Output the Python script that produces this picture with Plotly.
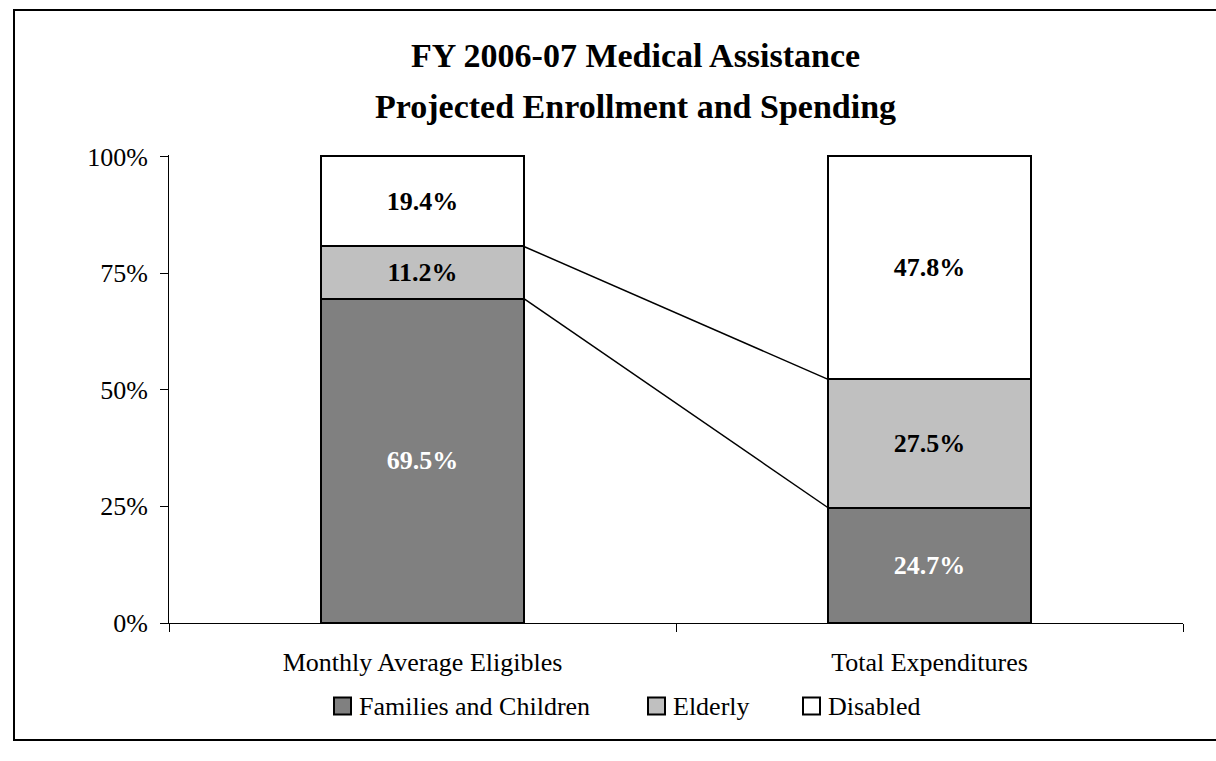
import plotly.graph_objects as go

# Stacked shares, in percent, for each measure
categories = ["Monthly Average Eligibles", "Total Expenditures"]
series_names = ["Families and Children", "Elderly", "Disabled"]
families = [69.5, 24.7]
elderly = [11.2, 27.5]
disabled = [19.4, 47.8]
series_values = [families, elderly, disabled]
fill_colors = ["#808080", "#C0C0C0", "#FFFFFF"]
label_colors = ["#FFFFFF", "#000000", "#000000"]
y_ticks = [0, 25, 50, 75, 100]
y_tick_labels = ["0%", "25%", "50%", "75%", "100%"]

FONT = "Liberation Serif"
W, H = 1216, 761
L, R, T, B = 169, 33, 155, 138
BAR_W = 0.4

plot_w = W - L - R
plot_h = H - T - B


def px_x(px):
    return (px - L) / plot_w


def px_y(py):
    return (H - B - py) / plot_h


fig = go.Figure()
for name, vals, fc, lc in zip(series_names, series_values, fill_colors, label_colors):
    fig.add_trace(go.Bar(
        x=categories, y=vals, name=name, width=BAR_W,
        marker=dict(color=fc, line=dict(color="#000000", width=2)),
        texttemplate="%{y:.1f}%", textposition="inside",
        insidetextanchor="middle", textangle=0,
        textfont=dict(family=FONT, size=26, color=lc, weight="bold"),
        showlegend=False, hoverinfo="skip",
    ))

# Series lines joining the tops of the lower segments
shapes = []
cum_left, cum_right = 0.0, 0.0
for vals in series_values[:-1]:
    cum_left += vals[0]
    cum_right += vals[1]
    shapes.append(dict(type="line", xref="x", yref="y",
                       x0=0 + BAR_W / 2, y0=cum_left,
                       x1=1 - BAR_W / 2, y1=cum_right,
                       line=dict(color="#000000", width=1.5)))

# Chart frame
shapes.append(dict(type="rect", xref="paper", yref="paper",
                   x0=px_x(14), x1=px_x(1260), y0=px_y(740), y1=px_y(10),
                   line=dict(color="#000000", width=2), layer="below"))

# Legend keys
annotations = []
legend_x = [334, 648, 803]
legend_cy = 706
sq = 17
for name, fc, lx in zip(series_names, fill_colors, legend_x):
    shapes.append(dict(type="rect", xref="paper", yref="paper",
                       x0=px_x(lx), x1=px_x(lx + sq),
                       y0=px_y(legend_cy + sq / 2), y1=px_y(legend_cy - sq / 2),
                       fillcolor=fc, line=dict(color="#000000", width=2)))
    annotations.append(dict(xref="paper", yref="paper", x=px_x(lx + sq + 6),
                            y=px_y(legend_cy), xanchor="left", yanchor="middle",
                            text=name, showarrow=False,
                            font=dict(family=FONT, size=26, color="#000000")))

# Two-line title
title_lines = ["FY 2006-07 Medical Assistance", "Projected Enrollment and Spending"]
for line, cy in zip(title_lines, [55, 107]):
    annotations.append(dict(xref="paper", yref="paper", x=px_x(635), y=px_y(cy),
                            xanchor="center", yanchor="middle", text=line,
                            showarrow=False,
                            font=dict(family=FONT, size=34, color="#000000",
                                      weight="bold")))

fig.update_layout(
    width=W, height=H,
    margin=dict(l=L, r=R, t=T, b=B, pad=0),
    paper_bgcolor="#FFFFFF", plot_bgcolor="#FFFFFF",
    barmode="stack",
    font=dict(family=FONT, size=26, color="#000000"),
    shapes=shapes, annotations=annotations,
    xaxis=dict(type="category", tickson="boundaries", ticks="outside",
               ticklen=8, tickcolor="#000000", showline=True,
               linecolor="#000000", linewidth=1, showgrid=False,
               ticklabelstandoff=16,
               tickfont=dict(family=FONT, size=26, color="#000000"),
               range=[-0.5, 1.5]),
    yaxis=dict(range=[0, 100.3], tickvals=y_ticks, ticktext=y_tick_labels,
               ticks="outside", ticklen=8, tickcolor="#000000",
               showline=True, linecolor="#000000", linewidth=1,
               showgrid=False, zeroline=False, ticklabelstandoff=7,
               tickfont=dict(family=FONT, size=26, color="#000000")),
)

fig.write_html("out.html")
